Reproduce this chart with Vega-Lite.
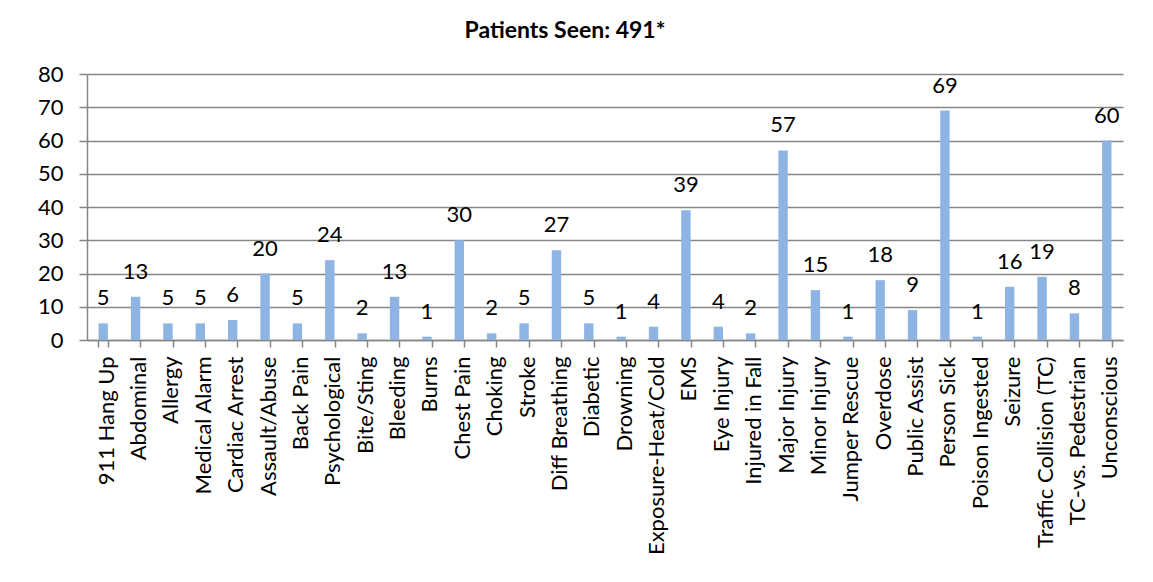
{
  "$schema": "https://vega.github.io/schema/vega-lite/v6.json",
  "width": 1036,
  "height": 266,
  "autosize": {"type": "none"},
  "padding": {"left": 87, "top": 74, "right": 30, "bottom": 242},
  "background": "white",
  "title": {
    "text": "Patients Seen: 491*",
    "font": "Lato",
    "fontSize": 23,
    "fontWeight": "bold",
    "color": "#000000",
    "anchor": "middle",
    "dx": -40,
    "offset": 20
  },
  "data": {
    "values": [
      {"type": "911 Hang Up", "count": 5},
      {"type": "Abdominal", "count": 13},
      {"type": "Allergy", "count": 5},
      {"type": "Medical Alarm", "count": 5},
      {"type": "Cardiac Arrest", "count": 6},
      {"type": "Assault/Abuse", "count": 20},
      {"type": "Back Pain", "count": 5},
      {"type": "Psychological", "count": 24},
      {"type": "Bite/Sting", "count": 2},
      {"type": "Bleeding", "count": 13},
      {"type": "Burns", "count": 1},
      {"type": "Chest Pain", "count": 30},
      {"type": "Choking", "count": 2},
      {"type": "Stroke", "count": 5},
      {"type": "Diff Breathing", "count": 27},
      {"type": "Diabetic", "count": 5},
      {"type": "Drowning", "count": 1},
      {"type": "Exposure-Heat/Cold", "count": 4},
      {"type": "EMS", "count": 39},
      {"type": "Eye Injury", "count": 4},
      {"type": "Injured in Fall", "count": 2},
      {"type": "Major Injury", "count": 57},
      {"type": "Minor Injury", "count": 15},
      {"type": "Jumper Rescue", "count": 1},
      {"type": "Overdose", "count": 18},
      {"type": "Public Assist", "count": 9},
      {"type": "Person Sick", "count": 69},
      {"type": "Poison Ingested", "count": 1},
      {"type": "Seizure", "count": 16},
      {"type": "Traffic Collision (TC)", "count": 19},
      {"type": "TC-vs. Pedestrian", "count": 8},
      {"type": "Unconscious", "count": 60}
    ]
  },
  "encoding": {
    "x": {
      "field": "type",
      "type": "nominal",
      "sort": null,
      "scale": {"paddingInner": 0.71, "paddingOuter": 0.355},
      "axis": {
        "title": null,
        "labelAngle": -90,
        "labelAlign": "right",
        "labelBaseline": "middle",
        "labelFont": "Lato",
        "labelFontSize": 22,
        "labelColor": "#000000",
        "labelPadding": 9,
        "labelOffset": 3,
        "tickBand": "extent",
        "tickSize": 7,
        "tickColor": "#868686",
        "domainColor": "#868686",
        "domainWidth": 1.5,
        "tickWidth": 1.5,
        "labelLimit": 400
      }
    },
    "y": {
      "field": "count",
      "type": "quantitative",
      "scale": {"domain": [0, 80], "nice": false},
      "axis": {
        "title": null,
        "values": [0, 10, 20, 30, 40, 50, 60, 70, 80],
        "labelFont": "Lato",
        "labelFontSize": 22,
        "labelColor": "#000000",
        "labelPadding": 16,
        "tickSize": 8,
        "tickColor": "#868686",
        "tickWidth": 1.5,
        "domainColor": "#868686",
        "domainWidth": 1.5,
        "grid": true,
        "gridColor": "#868686",
        "gridWidth": 1.5
      }
    }
  },
  "layer": [
    {
      "mark": {"type": "bar", "color": "#8DB4E2"}
    },
    {
      "mark": {
        "type": "text",
        "font": "Lato",
        "fontSize": 22,
        "color": "#000000",
        "baseline": "middle",
        "dy": -25
      },
      "encoding": {
        "text": {"field": "count", "type": "quantitative"}
      }
    }
  ],
  "config": {
    "view": {"stroke": null}
  }
}
